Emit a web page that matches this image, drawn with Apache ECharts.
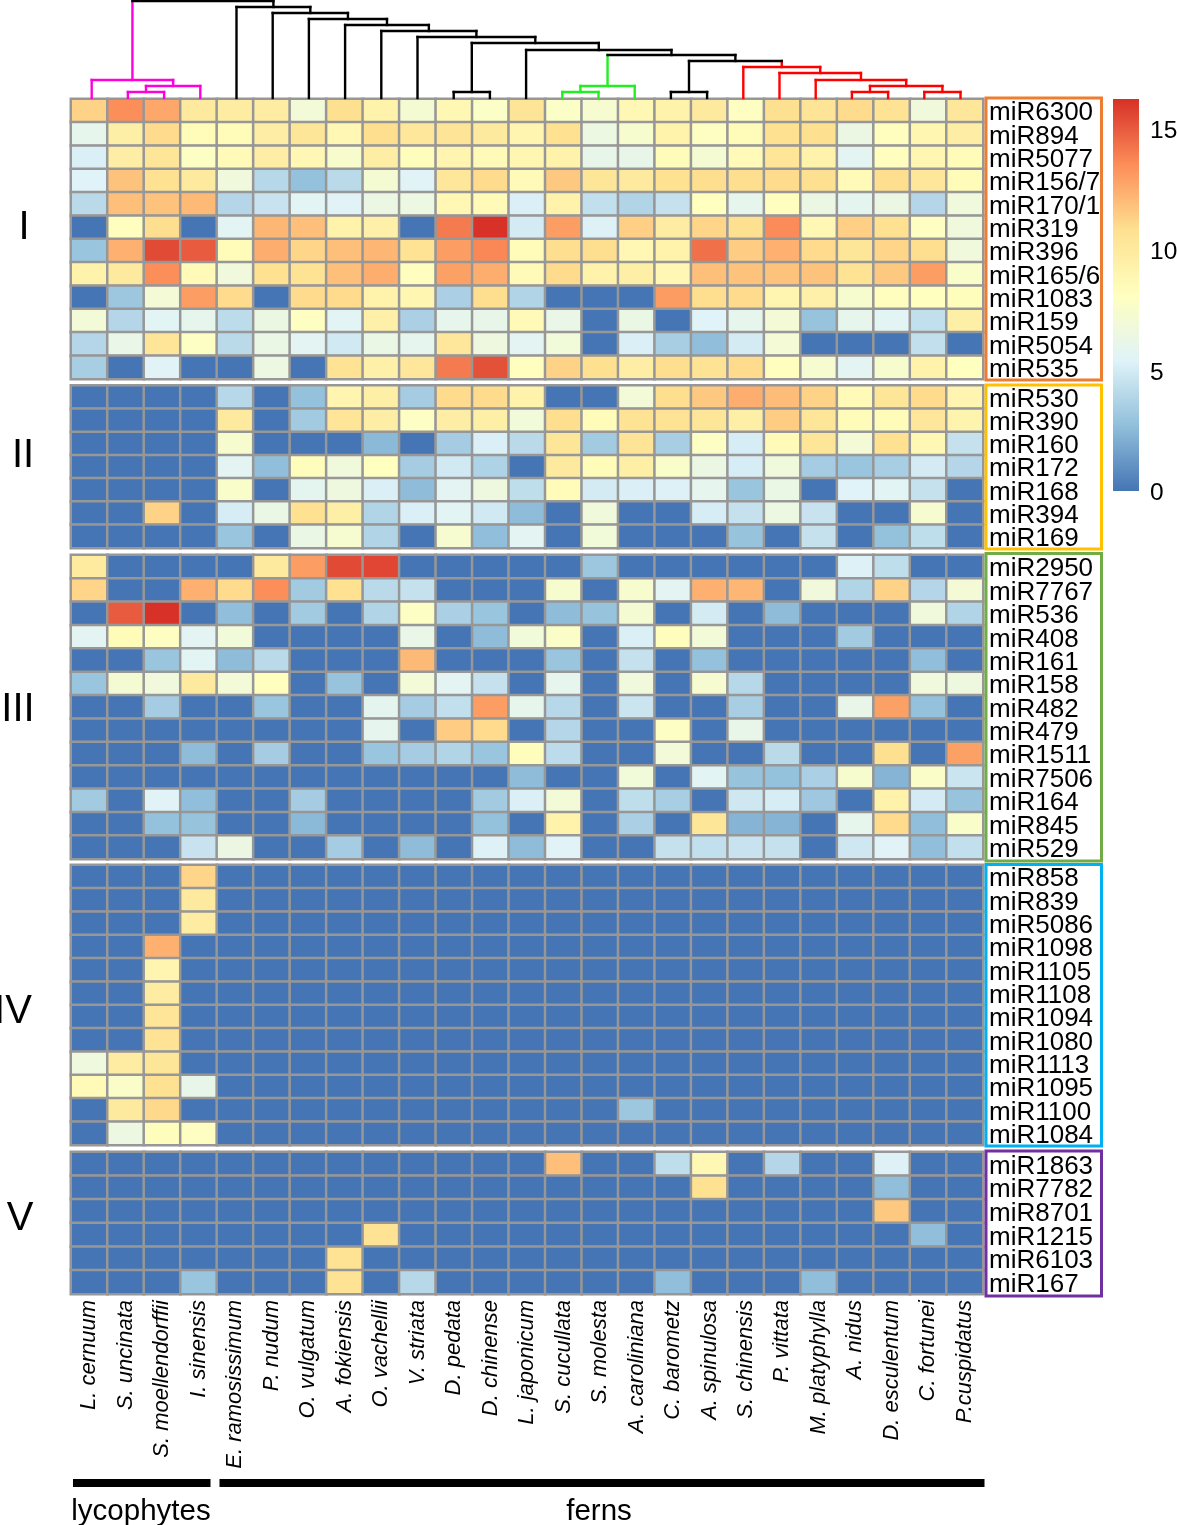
<!DOCTYPE html>
<html>
<head>
<meta charset="utf-8">
<style>html,body{margin:0;padding:0;background:#fff;overflow:hidden}#c{width:1177px;height:1525px}</style>
<script src="https://cdn.jsdelivr.net/npm/echarts@6/dist/echarts.min.js"></script>
</head>
<body>
<div id="c"></div>
<script>
const species = ['L. cernuum','S. uncinata','S. moellendorffii','I. sinensis','E. ramosissimum','P. nudum','O. vulgatum','A. fokiensis','O. vachellii','V. striata','D. pedata','D. chinense','L. japonicum','S. cucullata','S. molesta','A. caroliniana','C. barometz','A. spinulosa','S. chinensis','P. vittata','M. platyphylla','A. nidus','D. esculentum','C. fortunei','P.cuspidatus'];

const rowsI = ['miR6300','miR894','miR5077','miR156/7','miR170/1','miR319','miR396','miR165/6','miR1083','miR159','miR5054','miR535'];
const valuesI = [
[11.3,13.5,12.7,10,9.8,9.8,7,10.8,9.2,7.2,8.7,7.8,10.5,7.8,7.3,8.7,9.2,10,8,10.8,10.5,11,10.6,6.8,10.2],
[6,9.5,11,8.4,8.4,9.7,10.3,8.8,10.9,10.2,10.5,10,9,10.7,6.5,7.4,9.2,8,8.5,10.7,10.8,6.4,8.2,8.9,9.6],
[5.2,9.7,10.3,7.9,8.6,9.7,8.8,7.5,9.6,8.3,9,8.6,8.9,9.2,6.1,6.1,8.5,7.2,8.6,10.4,9.2,5.7,8.2,8.9,8.4],
[5.4,11.8,10.7,10,6.8,4,2.8,4.1,7.2,5.5,10.2,11,8.6,11.6,10.3,10,10.7,10.9,10.9,11,10.8,8.6,10.9,10.2,8.4],
[4.1,11.9,11.8,12.1,3.9,4.6,5.6,5.5,6.4,6.5,8.8,8.6,5.2,9.2,4.4,3.8,4.5,8.1,6,8.2,6.4,5.8,6.4,3.9,6.8],
[0,8.2,10.9,0,5.6,12.2,11.9,9.3,9.4,0,14.1,16.2,5,13,5.3,11.4,9.8,11.2,10.8,13.6,8.8,11.4,10.7,8,6.8],
[3,12.4,15.5,15,8.4,12.5,11.2,11.9,12.2,10.6,13,13.7,8.5,10.9,10.9,8.8,9.3,14.4,11.5,12.4,11,10.3,11.2,10.9,6.8],
[9.2,10,13.5,8.6,6.8,10.7,10.6,11.9,12.5,8.2,12.9,12.5,8.6,11,9.3,9.5,8.8,11.9,11.8,11.8,11.8,10.6,11.6,13,7.6],
[0,3.1,7.1,13,11,0,11,11,9.2,8.9,3.6,10.9,3.8,0,0,0,13.1,10.9,11,9,9.4,7.4,8.2,8.1,8.3],
[7,3.9,5.6,6,4.2,6.4,8,5.6,9.4,3.6,6,6.1,8.6,6.2,0,6.3,0,5.4,6,7.1,2.9,6,5.6,4.4,9.5],
[3.9,6.2,10.4,7.9,4.1,6.3,5.7,4.9,6.3,5.9,10.2,6.6,5.7,6.9,0,5.2,3.5,2.7,5,7.1,0,0,0,4.4,0],
[3.5,0,5.5,0,0,6.5,0,10.6,9.4,10.2,14.1,15.3,8.2,11.3,10.8,9.6,10.9,10.6,11,8.2,7.3,5.7,7.4,9.2,8.1]
];

const rowsII = ['miR530','miR390','miR160','miR172','miR168','miR394','miR169'];
const valuesII = [
[0,0,0,0,4,0,2.8,9,9.5,3.4,11,11,9.2,0,0,7,10.9,11.6,12.5,12,11.3,8.6,10.3,11,9],
[0,0,0,0,10,0,3.3,10.4,9.6,7.9,9.7,9.5,6.9,10.9,8.5,10.6,10.6,10.3,9.5,11.5,10.3,8.4,8.4,10.2,9.1],
[0,0,0,0,7.4,0,0,0,2.5,0,3.4,5.2,4.1,10.3,3.3,10.5,3.5,7.9,5.1,8.6,10.3,7.1,10.7,8.7,4.5],
[0,0,0,0,5.7,2.7,8.3,6.8,8.1,3.4,4.9,3.7,0,10,8.4,9.5,7.6,6.4,5.1,6.8,3.4,3,3.5,5,3.9],
[0,0,0,0,7.6,0,5.8,6.6,5.2,2.6,5.7,6.6,4.3,8.4,5,5.2,5.3,5.9,3,6.3,0,5.4,5.6,4.5,0],
[0,0,11.3,0,5.1,6.3,10.7,9.5,3.8,5.2,5.6,4.9,2.6,0,6.8,0,0,5.1,4.5,6.5,4.6,0,0,7.3,0],
[0,0,0,0,3,0,6.3,7.3,3.8,0,7.3,2.7,5.7,0,6.9,0,0,0,2.9,0,4.5,0,2.8,4.3,0]
];

const rowsIII = ['miR2950','miR7767','miR536','miR408','miR161','miR158','miR482','miR479','miR1511','miR7506','miR164','miR845','miR529'];
const valuesIII = [
[9.9,0,0,0,0,10,13,15.5,15.6,0,0,0,0,0,3.1,0,0,0,0,0,0,5.3,4.3,0,0],
[11.2,0,0,12.4,11,13.5,3.3,10.7,4.1,4.5,0,0,0,7.4,0,7.4,5.7,12.4,12.2,0,6.8,3.8,11.3,3.9,7.1],
[0,15,16.2,0,2.7,0,3.3,0,3.8,7.9,3.6,3,0,2.6,2.9,7.2,0,5,0,2.6,0,0,0,6.8,3.8],
[5.7,8.4,8,5.7,6.9,0,0,0,0,6.2,0,2.6,6.9,7.7,0,5.2,8.3,7,0,0,0,3.3,0,0,0],
[0,0,3,5.6,2.6,4.1,0,0,0,12.1,0,0,0,3,0,4.5,0,2.8,0,0,0,0,0,2.7,0],
[3,7.2,6.8,10,7,8.2,0,2.9,0,7,5.7,4.5,0,5.9,0,6.8,0,7.3,4,0,0,0,0,6.8,6.6],
[0,0,3.4,0,0,3,0,0,5.8,3.4,4.4,13,6,4,0,4.7,0,0,3.5,0,0,6.1,12.9,2.8,0],
[0,0,0,0,0,0,0,0,5.9,0,11.5,11,0,3.9,0,0,7.9,0,6.1,0,0,0,0,0,0],
[0,0,0,2.6,0,3.4,0,0,3,3.4,3.8,3,8.3,4.2,0,0,7,0,0,4.1,0,0,10.8,0,12.9],
[0,0,0,0,0,0,0,0,0,0,0,0,2.6,0,0,6.9,0,5.6,2.9,2.8,3.6,7.4,2.3,7.7,4.7],
[3.3,0,5.5,2.7,0,0,3.4,0,0,0,0,3.3,5.2,7,0,4.3,3.5,0,4.8,5.1,3.2,0,9.2,5,2.9],
[0,0,2.8,2.9,0,0,2.5,0,0,0,0,2.8,0,9.2,0,3.6,0,10.3,2.3,2.3,0,6,11,2.7,7.6],
[0,0,0,4.6,6.4,0,0,3.4,0,2.6,0,5.3,2.6,5.5,0,0,4.5,4.4,4.6,4.5,0,4.8,5.5,2.7,4.4]
];

const rowsIV = ['miR858','miR839','miR5086','miR1098','miR1105','miR1108','miR1094','miR1080','miR1113','miR1095','miR1100','miR1084'];
const valuesIV = [
[0,0,0,11.2,0,0,0,0,0,0,0,0,0,0,0,0,0,0,0,0,0,0,0,0,0],
[0,0,0,10,0,0,0,0,0,0,0,0,0,0,0,0,0,0,0,0,0,0,0,0,0],
[0,0,0,9.8,0,0,0,0,0,0,0,0,0,0,0,0,0,0,0,0,0,0,0,0,0],
[0,0,12.4,0,0,0,0,0,0,0,0,0,0,0,0,0,0,0,0,0,0,0,0,0,0],
[0,0,9,0,0,0,0,0,0,0,0,0,0,0,0,0,0,0,0,0,0,0,0,0,0],
[0,0,9.8,0,0,0,0,0,0,0,0,0,0,0,0,0,0,0,0,0,0,0,0,0,0],
[0,0,10.4,0,0,0,0,0,0,0,0,0,0,0,0,0,0,0,0,0,0,0,0,0,0],
[0,0,10.6,0,0,0,0,0,0,0,0,0,0,0,0,0,0,0,0,0,0,0,0,0,0],
[6.7,9.8,10.3,0,0,0,0,0,0,0,0,0,0,0,0,0,0,0,0,0,0,0,0,0,0],
[8.6,7.7,10.7,6.1,0,0,0,0,0,0,0,0,0,0,0,0,0,0,0,0,0,0,0,0,0],
[0,10,11.1,0,0,0,0,0,0,0,0,0,0,0,0,3.1,0,0,0,0,0,0,0,0,0],
[0,6.5,8.3,8,0,0,0,0,0,0,0,0,0,0,0,0,0,0,0,0,0,0,0,0,0]
];

const rowsV = ['miR1863','miR7782','miR8701','miR1215','miR6103','miR167'];
const valuesV = [
[0,0,0,0,0,0,0,0,0,0,0,0,0,11.9,0,0,4.3,8.7,0,3.9,0,0,5.3,0,0],
[0,0,0,0,0,0,0,0,0,0,0,0,0,0,0,0,0,10.7,0,0,0,0,2.7,0,0],
[0,0,0,0,0,0,0,0,0,0,0,0,0,0,0,0,0,0,0,0,0,0,11.6,0,0],
[0,0,0,0,0,0,0,0,10.6,0,0,0,0,0,0,0,0,0,0,0,0,0,0,2.7,0],
[0,0,0,0,0,0,0,10.6,0,0,0,0,0,0,0,0,0,0,0,0,0,0,0,0,0],
[0,0,0,3,0,0,0,10.6,0,4,0,0,0,0,0,0,2.7,0,0,0,2.7,0,0,0,0]
];

// Dendrogram merges: [left, right, height, colour index]; positive = leaf (1-based column), negative = -(merge index + 1)
const dendroColors = ['#000000','#ff00dd','#22ee22','#ff0000'];
const dendroMerges = [
[2,3,6,1],[-1,4,12,1],[1,-2,18,1],
[11,12,6,0],
[14,15,6,2],[-5,16,12,2],
[17,18,6,0],
[22,23,6,3],[24,25,6,3],[-8,-9,12,3],[21,-10,18,3],[20,-11,25,3],[19,-12,31,3],
[-7,-13,37,0],[-6,-14,43,0],[13,-15,48,0],[-4,-16,55,0],[10,-17,61,0],[9,-18,67,0],
[8,-19,73,0],[7,-20,79,0],[6,-21,85,0],[5,-22,91,0],[-3,-23,97,0]
];

const colorStops = ['#4575B4','#91BFDB','#E0F3F8','#FFFFBF','#FEE090','#FC8D59','#D73027'];
const colorMax = 16.25;
const colorTicks = [0,5,10,15];

const groups = [
  {rows:rowsI, values:valuesI, top:99, height:280, box:'#ED7D31', boxTop:98, boxBottom:380, roman:'I', romanX:24, romanY:228},
  {rows:rowsII, values:valuesII, top:385.5, height:162.5, box:'#FFC000', boxTop:385, boxBottom:549, roman:'II', romanX:23, romanY:456},
  {rows:rowsIII, values:valuesIII, top:555, height:304, box:'#70AD47', boxTop:553.5, boxBottom:861, roman:'III', romanX:18, romanY:710},
  {rows:rowsIV, values:valuesIV, top:865, height:280, box:'#00B0F0', boxTop:864.5, boxBottom:1146, roman:'IV', romanX:13, romanY:1012},
  {rows:rowsV, values:valuesV, top:1152, height:142, box:'#7030A0', boxTop:1151, boxBottom:1296, roman:'V', romanX:20, romanY:1219}
];

const FONT = '"Liberation Sans", Arial, sans-serif';

function dendroSegments() {
  const nodes = [];
  const pos = ref => ref > 0 ? {x: ref - 0.5, h: 0} : nodes[-ref - 1];
  const segs = [];
  dendroMerges.forEach(m => {
    const a = pos(m[0]), b = pos(m[1]);
    const col = m[3];
    const ca = m[0] > 0 ? col : dendroMerges[-m[0] - 1][3];
    const cb = m[1] > 0 ? col : dendroMerges[-m[1] - 1][3];
    segs.push([a.x, a.h, a.x, m[2], ca]);
    segs.push([b.x, b.h, b.x, m[2], cb]);
    segs.push([a.x, m[2], b.x, m[2], col]);
    nodes.push({x: (a.x + b.x) / 2, h: m[2]});
  });
  return segs;
}

const grid = [], xAxis = [], yAxis = [], series = [], graphic = [];
groups.forEach((g, gi) => {
  grid.push({left:71, width:912, top:g.top, height:g.height, containLabel:false, outerBoundsMode:'none'});
  const last = gi === groups.length - 1;
  xAxis.push({type:'category', gridIndex:gi, data:species, position:'bottom',
    axisLine:{show:false}, axisTick:{show:false}, splitLine:{show:false},
    axisLabel: last ? {show:true, interval:0, rotate:90, margin:6, color:'#000', fontFamily:FONT, fontStyle:'italic', fontSize:22} : {show:false}});
  yAxis.push({type:'category', gridIndex:gi, data:g.rows, inverse:true, position:'right',
    axisLine:{show:false}, axisTick:{show:false}, splitLine:{show:false},
    axisLabel:{show:true, interval:0, margin:6, color:'#000', fontFamily:FONT, fontSize:26, verticalAlign:'top', lineHeight:5}});
  const data = [];
  g.values.forEach((row, r) => row.forEach((v, c) => data.push([c, r, v])));
  series.push({type:'heatmap', xAxisIndex:gi, yAxisIndex:gi, data:data, silent:true, animation:false,
    progressive:0,
    itemStyle:{borderColor:'#979797', borderWidth:2.5}, emphasis:{disabled:true}});
  graphic.push({type:'rect', silent:true, shape:{x:986, y:g.boxTop, width:115.5, height:g.boxBottom - g.boxTop},
    style:{fill:'none', stroke:g.box, lineWidth:3}, z:10});
  graphic.push({type:'text', silent:true, x:g.romanX, y:g.romanY,
    style:{text:g.roman, fill:'#000', font:'40px ' + FONT, textAlign:'center', textVerticalAlign:'middle'}, z:10});
});

const dg = groups.length;
grid.push({left:73.6, width:905, top:0, height:98, outerBoundsMode:'none'});
xAxis.push({type:'value', gridIndex:dg, min:0, max:species.length, show:false});
yAxis.push({type:'value', gridIndex:dg, min:0, max:98, show:false});
series.push({type:'custom', xAxisIndex:dg, yAxisIndex:dg, silent:true, animation:false, clip:false,
  data:dendroSegments(),
  encode:{x:[0,2], y:[1,3]},
  renderItem:function(params, api){
    const p1 = api.coord([api.value(0), api.value(1)]);
    const p2 = api.coord([api.value(2), api.value(3)]);
    return {type:'line', shape:{x1:p1[0], y1:p1[1], x2:p2[0], y2:p2[1]},
      style:{stroke:dendroColors[api.value(4)], lineWidth:2.4, lineCap:'square', fill:null}};
  }});

const cg = dg + 1;
grid.push({left:1113, width:26, top:99, height:392, outerBoundsMode:'none'});
xAxis.push({type:'value', gridIndex:cg, min:0, max:1, show:false});
yAxis.push({type:'value', gridIndex:cg, min:0, max:colorMax, position:'right',
  axisLine:{show:false}, axisTick:{show:false}, splitLine:{show:false},
  axisLabel:{show:true, margin:11, color:'#000', fontFamily:FONT, fontSize:24.5, verticalAlign:'top', lineHeight:5, customValues:colorTicks}});

// colour bar, built from the same stops as the cell scale
graphic.push({type:'rect', silent:true, shape:{x:1113, y:99, width:26, height:392},
  style:{fill:new echarts.graphic.LinearGradient(0,1,0,0, colorStops.map((c,i)=>({offset:i/(colorStops.length-1), color:c})))}});

// taxon bars + labels
graphic.push({type:'rect', silent:true, shape:{x:73, y:1479, width:137.5, height:8}, style:{fill:'#000'}});
graphic.push({type:'rect', silent:true, shape:{x:219.5, y:1479, width:765, height:8}, style:{fill:'#000'}});
graphic.push({type:'text', silent:true, x:141, y:1512, style:{text:'lycophytes', fill:'#000', font:'29.5px ' + FONT, textAlign:'center', textVerticalAlign:'middle'}});
graphic.push({type:'text', silent:true, x:599, y:1512, style:{text:'ferns', fill:'#000', font:'29.5px ' + FONT, textAlign:'center', textVerticalAlign:'middle'}});

const chart = echarts.init(document.getElementById('c'), null, {renderer:'canvas', width:1177, height:1525});
chart.setOption({
  backgroundColor:'#fff',
  animation:false,
  grid, xAxis, yAxis, series, graphic,
  visualMap:{type:'continuous', show:false, min:0, max:colorMax, seriesIndex:[0,1,2,3,4], dimension:2,
    inRange:{color:colorStops}}
});
</script>
</body>
</html>
